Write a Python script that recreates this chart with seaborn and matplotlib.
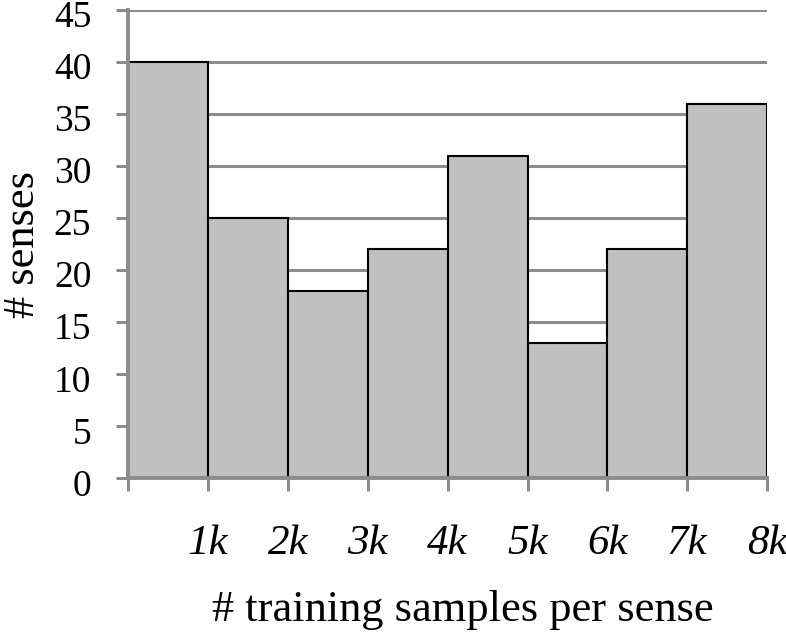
import numpy as np
import pandas as pd
import matplotlib
matplotlib.use("Agg")
import matplotlib.pyplot as plt
import matplotlib.transforms as mtransforms
import seaborn as sns

# data
bins = ["0-1k", "1k-2k", "2k-3k", "3k-4k", "4k-5k", "5k-6k", "6k-7k", "7k-8k"]
senses = [40, 25, 18, 22, 31, 13, 22, 36]
edge_labels = ["", "1k", "2k", "3k", "4k", "5k", "6k", "7k", "8k"]
yticks = list(range(0, 50, 5))

df = pd.DataFrame({"bin": bins, "senses": senses})

sns.set_theme(style="white")
plt.rcParams["font.family"] = ["Liberation Serif", "DejaVu Serif"]
plt.rcParams["text.color"] = "black"
plt.rcParams["axes.labelcolor"] = "black"
plt.rcParams["xtick.labelcolor"] = "black"
plt.rcParams["ytick.labelcolor"] = "black"

grey = "#8c8c8c"

fig = plt.figure(figsize=(7.86, 6.36), dpi=100)
ax = fig.add_axes([0.163, 0.248, 0.813, 0.736])

sns.barplot(data=df, x="bin", y="senses", color="#c0c0c0", saturation=1,
            width=1.0, edgecolor="black", linewidth=1.5, ax=ax, zorder=3)

ax.set_ylim(0, 45)
ax.set_xlim(-0.5, len(bins) - 0.5)
ax.set_yticks(yticks)
ax.set_yticklabels([str(t) for t in yticks], fontsize=27)
ax.set_xticks(np.arange(len(edge_labels)) - 0.5)
ax.set_xticklabels(edge_labels, fontsize=31, style="italic")

ax.yaxis.grid(True, color=grey, linewidth=2.2, zorder=0)
ax.set_axisbelow(True)
ax.tick_params(axis="y", length=8.5, width=2.2, color=grey, pad=18, left=True)
ax.tick_params(axis="x", length=9, width=2.2, color=grey, pad=24, bottom=True)

# y labels sit a few px below their ticks in the original
shift = mtransforms.ScaledTranslation(0, -4 / 100, fig.dpi_scale_trans)
for lab in ax.get_yticklabels():
    lab.set_transform(lab.get_transform() + shift)

for side in ["top", "right"]:
    ax.spines[side].set_visible(False)
for side in ["left", "bottom"]:
    ax.spines[side].set_color(grey)
    ax.spines[side].set_linewidth(2.8)
    ax.spines[side].set_zorder(4)

ax.set_ylabel("# senses", fontsize=32, labelpad=8)
ax.set_xlabel("# training samples per sense", fontsize=32, labelpad=20, x=0.523)

fig.savefig("out.png", dpi=100)
